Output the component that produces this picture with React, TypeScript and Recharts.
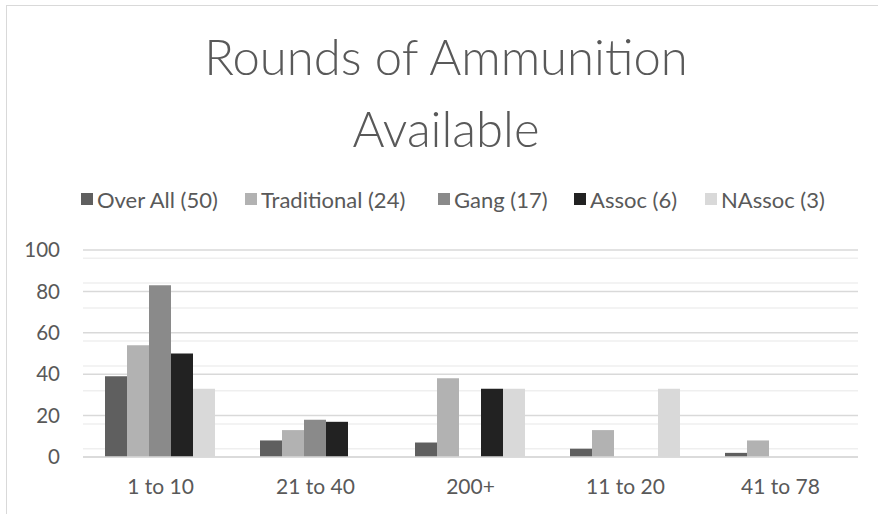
import React from "react";
import { BarChart, Bar, XAxis, YAxis, CartesianGrid } from "recharts";

const categories = ["1 to 10", "21 to 40", "200+", "11 to 20", "41 to 78"];
const overAll = [39, 8, 7, 4, 2];
const traditional = [54, 13, 38, 13, 8];
const gang = [83, 18, 0, 0, 0];
const assoc = [50, 17, 33, 0, 0];
const nassoc = [33, 0, 33, 33, 0];
const yTicks = [0, 20, 40, 60, 80, 100];
const minorTicks = [4, 8, 12, 16, 24, 28, 32, 36, 44, 48, 52, 56, 64, 68, 72, 76, 84, 88, 92, 96];

const seriesDefs = [
  { key: "overAll", name: "Over All (50)", color: "#5f5f5f" },
  { key: "traditional", name: "Traditional (24)", color: "#b2b2b2" },
  { key: "gang", name: "Gang (17)", color: "#8a8a8a" },
  { key: "assoc", name: "Assoc (6)", color: "#222222" },
  { key: "nassoc", name: "NAssoc (3)", color: "#d9d9d9" },
];

const data = categories.map((c, i) => ({
  cat: c,
  overAll: overAll[i],
  traditional: traditional[i],
  gang: gang[i],
  assoc: assoc[i],
  nassoc: nassoc[i],
}));

const FONT = "Lato, 'Open Sans', sans-serif";
const TEXT = "#595959";

const legendX = [81, 245, 438, 574, 705];

export default function App() {
  return (
    <div style={{ position: "absolute", left: 0, top: 0, width: 878, height: 514, overflow: "hidden", background: "#fff", fontFamily: FONT }}>
      <div style={{ position: "absolute", left: 6, top: 5, width: 1000, height: 1000, borderLeft: "1.5px solid #d9d9d9", borderTop: "1.5px solid #d9d9d9" }} />
      <div style={{ position: "absolute", left: 7, width: 878, top: 20, textAlign: "center", color: TEXT, fontSize: 49, fontWeight: 300, lineHeight: "72px" }}>
        <div>Rounds of Ammunition</div>
        <div>Available</div>
      </div>
      {seriesDefs.map((s, i) => (
        <div key={s.key} style={{ position: "absolute", left: legendX[i], top: 186, height: 26, display: "flex", alignItems: "center", color: TEXT, fontSize: 22, whiteSpace: "nowrap" }}>
          <span style={{ display: "inline-block", width: 12, height: 12, background: s.color, marginRight: 4 }} />
          <span>{s.name}</span>
        </div>
      ))}
      <div style={{ position: "absolute", left: 0, top: 0 }}>
        <BarChart width={878} height={514} data={data} margin={{ top: 250, right: 20, bottom: 0, left: 0 }} barCategoryGap={22} barGap={0}>
          <CartesianGrid vertical={false} horizontalValues={minorTicks} stroke="#efefef" strokeWidth={1.5} />
          <CartesianGrid vertical={false} stroke="#d9d9d9" strokeWidth={1.5} />
          <XAxis dataKey="cat" height={57} tickLine={false} tickSize={0} tickMargin={22} axisLine={{ stroke: "#d9d9d9", strokeWidth: 1.5 }} tick={{ fill: TEXT, fontSize: 21, fontFamily: FONT }} />
          <YAxis width={83} domain={[0, 100]} ticks={yTicks} axisLine={false} tickLine={false} tickSize={0} tickMargin={23} tick={{ fill: TEXT, fontSize: 20.5, fontFamily: FONT }} />
          {seriesDefs.map((s) => (
            <Bar key={s.key} dataKey={s.key} name={s.name} fill={s.color} isAnimationActive={false} />
          ))}
        </BarChart>
      </div>
    </div>
  );
}
